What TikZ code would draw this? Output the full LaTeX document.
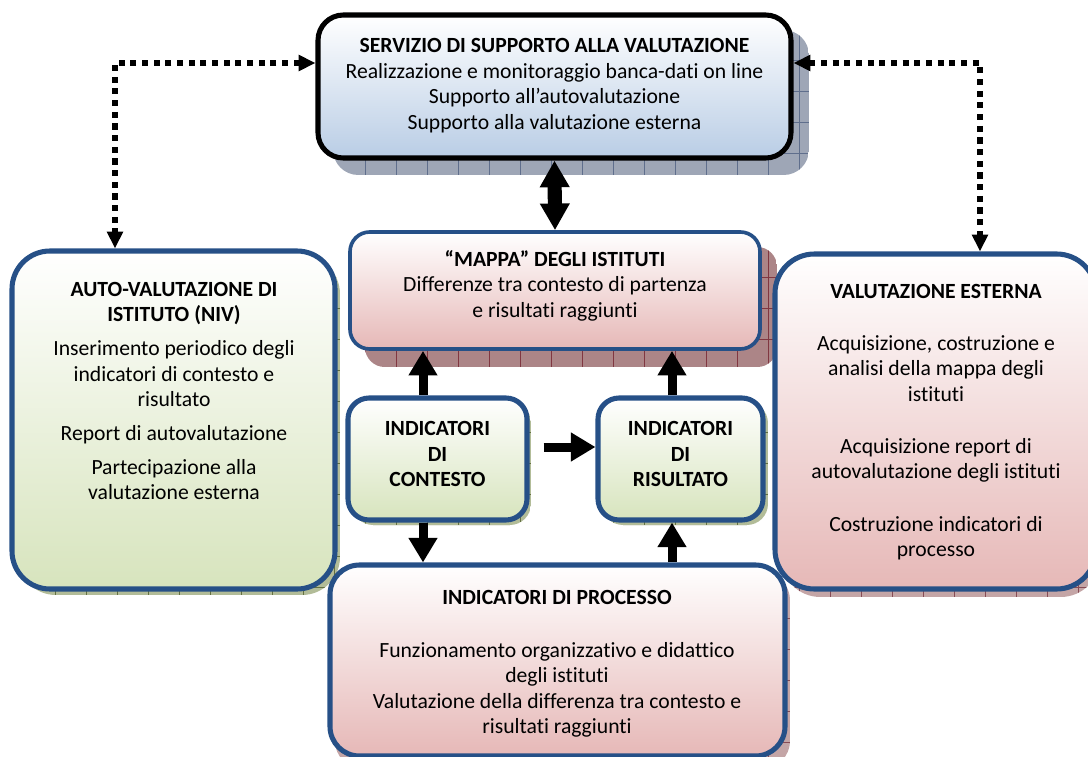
\documentclass[tikz,border=0pt]{standalone}
\usepackage{fontspec}
\setmainfont{Carlito}[Ligatures=NoCommon]
\usetikzlibrary{arrows.meta,calc,fit}
\definecolor{bordblue}{RGB}{38,80,135}
\definecolor{blueB}{RGB}{185,205,229}
\definecolor{greenB}{RGB}{215,228,189}
\definecolor{pinkB}{RGB}{230,184,183}
\definecolor{shblue}{RGB}{158,166,182}
\definecolor{shblueL}{RGB}{95,110,140}
\definecolor{shred}{RGB}{172,133,135}
\definecolor{shredL}{RGB}{128,55,65}
\definecolor{shgreen}{RGB}{178,188,152}
\definecolor{shgreenL}{RGB}{100,112,65}
\definecolor{shpink}{RGB}{196,165,166}
\definecolor{shpinkL}{RGB}{135,75,85}
\newcommand{\gridshadow}[7]{%
  \begin{scope}
    \clip[rounded corners=#5] (#1,#2) rectangle (#3,#4);
    \fill[#6] (#1,#2) rectangle (#3,#4);
    \foreach \gx in {24,55,...,1110} {\draw[#7,line width=0.5pt] (\gx,#2) -- (\gx,#4);}
    \foreach \gy in {29,60,...,790} {\draw[#7,line width=0.5pt] (#1,\gy) -- (#3,\gy);}
  \end{scope}}
\tikzset{
  boxbase/.style={inner sep=0pt, draw},
  topbox/.style={boxbase, draw=black, line width=3.6pt, rounded corners=18pt, top color=white, bottom color=blueB},
  greenbox/.style={boxbase, draw=bordblue, line width=3.6pt, top color=white, bottom color=greenB},
  pinkbox/.style={boxbase, draw=bordblue, line width=3.6pt, top color=white, bottom color=pinkB},
  txt/.style={align=center, inner sep=0pt, font=\fontsize{15.4}{18.1}\selectfont},
  fat/.style={line width=6.4pt, -{Triangle[length=17.5pt,width=19.5pt]}},
  dbl/.style={line width=10pt, {Triangle[length=19pt,width=20pt]}-{Triangle[length=19pt,width=20pt]}},
  dots/.style={line width=4.3pt, dash pattern=on 4.3pt off 4pt, {Triangle[length=12pt,width=11pt]}-{Triangle[length=12pt,width=11pt]}}
}
\begin{document}
\begin{tikzpicture}[x=0.025cm,y=-0.025cm]
\useasboundingbox (0,0) rectangle (1088,757);
% shadows
\gridshadow{333}{30}{809}{175}{18pt}{shblue}{shblueL}
\gridshadow{365}{247}{777}{367}{14pt}{shred}{shredL}
\gridshadow{18}{256}{340}{595}{27pt}{shgreen}{shgreenL}
\gridshadow{352}{402}{531}{525}{15pt}{shgreen}{shgreenL}
\gridshadow{602}{402}{768}{525}{15pt}{shgreen}{shgreenL}
\gridshadow{781}{260}{1100}{597}{28pt}{shpink}{shpinkL}
\gridshadow{335}{571}{790}{770}{21pt}{shpink}{shpinkL}
% boxes
\node[topbox, fit={(318,15) (791,158)}] (top) {};
\node[greenbox, rounded corners=27pt, fit={(12,251) (335,589)}] (auto) {};
\node[pinkbox, line width=2.6pt, rounded corners=14pt, fit={(350,232) (760,349)}] (map) {};
\node[greenbox, rounded corners=15pt, fit={(348,398) (527,520)}] (ctx) {};
\node[greenbox, rounded corners=15pt, fit={(598,398) (763,520)}] (res) {};
\node[pinkbox, rounded corners=28pt, fit={(775,254) (1096,589)}] (val) {};
\node[pinkbox, rounded corners=21pt, fit={(330,565) (785,756)}] (proc) {};
% texts
\node[txt] (toptxt) at (554.5,85.5) {\textbf{SERVIZIO DI SUPPORTO ALLA VALUTAZIONE}\\Realizzazione e monitoraggio banca-dati on line\\Supporto all’autovalutazione\\Supporto alla valutazione esterna};
\node[txt] (autotxt) at (174,391) {\textbf{AUTO-VALUTAZIONE DI}\\\textbf{ISTITUTO (NIV)}\\[6pt]Inserimento periodico degli\\indicatori di contesto e\\risultato\\[6pt]Report di autovalutazione\\[6pt]Partecipazione alla\\valutazione esterna};
\node[txt] (maptxt) at (555,285.5) {\textbf{“MAPPA” DEGLI ISTITUTI}\\Differenze tra contesto di partenza\\e risultati raggiunti};
\node[txt] (ctxtxt) at (437.5,454) {\textbf{INDICATORI}\\\textbf{DI}\\\textbf{CONTESTO}};
\node[txt] (restxt) at (680.5,454) {\textbf{INDICATORI}\\\textbf{DI}\\\textbf{RISULTATO}};
\node[txt] (valtxt) at (936,422) {\textbf{VALUTAZIONE ESTERNA}\\[19pt]Acquisizione, costruzione e\\analisi della mappa degli\\istituti\\[19pt]Acquisizione report di\\autovalutazione degli istituti\\[19pt]Costruzione indicatori di\\processo};
\node[txt] (proctxt) at (557,664) {\textbf{INDICATORI DI PROCESSO}\\[19pt]Funzionamento organizzativo e didattico\\degli istituti\\Valutazione della differenza tra contesto e\\risultati raggiunti};
% connectors
\coordinate (lc) at (115,63);
\coordinate (rc) at (980,63);
\draw[dots] (top.west |- lc) -| (auto.north -| lc);
\draw[dots] (top.east |- rc) -| (val.north -| rc);
\draw[dbl] (top.south) -- (map.north);
\coordinate (cx) at ($(ctx.north)+(-14.5,0)$);
\coordinate (rx) at ($(res.north)+(-8.5,0)$);
\draw[fat] (cx) -- (map.south -| cx);
\draw[fat] (rx) -- (map.south -| rx);
\coordinate (hx) at ($(ctx.east)+(14,-12)$);
\draw[fat] (hx) -- (res.west |- hx);
\draw[fat] (ctx.south -| cx) -- (proc.north -| cx);
\draw[fat] (proc.north -| rx) -- (res.south -| rx);
\end{tikzpicture}
\end{document}
